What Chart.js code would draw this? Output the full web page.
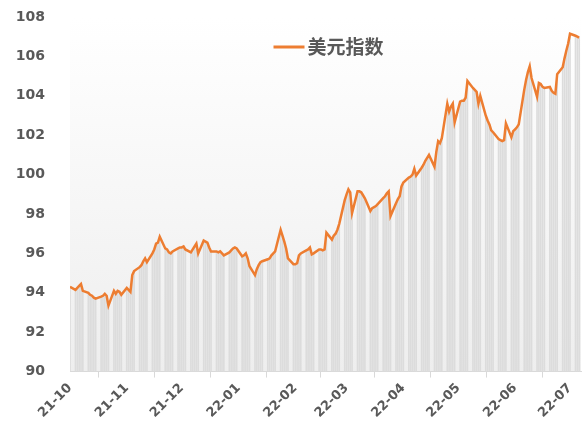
<!DOCTYPE html>
<html>
<head>
<meta charset="utf-8">
<script src="https://cdn.jsdelivr.net/npm/chart.js@4.4.0/dist/chart.umd.min.js"></script>
<style>
  html, body { margin: 0; padding: 0; background: #ffffff; }
  #wrap { width: 587px; height: 429px; }
</style>
</head>
<body>
<div id="wrap"><canvas id="dxyChart" width="587" height="429"></canvas></div>
<script>
// US dollar index, daily closes (weekdays), Oct 2021 - early Jul 2022
const seriesName = '美元指数';
const tickLabels = ['21-10', '21-11', '21-12', '22-01', '22-02', '22-03', '22-04', '22-05', '22-06', '22-07'];

const dxyOct21 = [94.3, 94.15, 94.25, 94.35, 94.45, 94.1, 94.0, 93.9, 93.85, 93.75, 93.7, 93.8, 93.85, 93.95, 93.85, 93.35, 94.1, 93.95, 94.1, 94.05, 93.9];
const dxyNov21 = [94.25, 94.15, 94.05, 94.9, 95.1, 95.3, 95.4, 95.6, 95.75, 95.55, 96.0, 96.2, 96.5, 96.55, 96.85, 96.25, 96.2, 96.05, 96.0, 96.1, 96.25, 96.3];
const dxyDec21 = [96.3, 96.35, 96.2, 96.05, 96.2, 96.35, 96.5, 96.0, 96.65, 96.6, 96.55, 96.3, 96.1, 96.1, 96.05, 96.1, 96.0, 95.9, 96.05, 96.15, 96.25, 96.3, 96.25];
const dxyJan22 = [95.85, 95.9, 96.0, 95.75, 95.35, 94.9, 95.2, 95.4, 95.55, 95.6, 95.7, 95.75, 95.9, 96.0, 96.1, 97.2, 96.9, 96.6, 96.25, 95.75, 95.45];
const dxyFeb22 = [95.45, 95.5, 95.9, 96.0, 96.15, 96.2, 96.3, 95.95, 96.0, 96.2, 96.2, 96.15, 96.2, 97.05, 96.7, 96.9, 97.0, 97.2, 97.5, 98.7];
const dxyMar22 = [99.0, 99.25, 99.1, 98.05, 99.15, 99.15, 99.1, 98.95, 98.8, 98.15, 98.3, 98.35, 98.4, 98.5, 98.8, 98.9, 99.05, 99.15, 97.9, 98.55, 98.75, 98.9, 99.4];
const dxyApr22 = [99.6, 99.85, 99.9, 100.0, 100.3, 99.95, 100.35, 100.5, 100.7, 100.85, 101.0, 100.4, 101.15, 101.7, 101.6, 101.85, 103.6, 103.2, 103.45, 103.6, 102.65];
const dxyMay22 = [103.7, 103.75, 103.75, 103.9, 104.75, 104.4, 104.3, 104.2, 103.6, 104.0, 103.0, 102.75, 102.55, 102.25, 102.15, 101.8, 101.75, 101.7, 101.75, 102.6, 101.9, 102.2];
const dxyJun22 = [102.3, 102.4, 102.55, 104.3, 104.8, 105.2, 105.5, 104.9, 103.95, 104.65, 104.6, 104.45, 104.4, 104.45, 104.25, 104.15, 104.1, 105.1, 105.45, 105.9, 106.3, 106.65];
const dxyJul22 = [107.15, 107.05, 107.0, 106.95];

const DAY = 86400000;
const start = Date.UTC(2021, 9, 1);

// x = days since 2021-10-01, stepping over weekends
const points = [];
let t = start;
[dxyOct21, dxyNov21, dxyDec21, dxyJan22, dxyFeb22, dxyMar22, dxyApr22, dxyMay22, dxyJun22, dxyJul22]
  .flat()
  .forEach(v => {
    while ([0, 6].includes(new Date(t).getUTCDay())) t += DAY;
    points.push({ x: (t - start) / DAY, y: v });
    t += DAY;
  });

// month starts for the axis ticks
const tickDays = tickLabels.map(l => {
  const yr = 2000 + Number(l.slice(0, 2));
  const mo = Number(l.slice(3)) - 1;
  return (Date.UTC(yr, mo, 1) - start) / DAY;
});

const textColor = '#595959';

// soft grey fade behind the plot
const plotBackground = {
  id: 'plotBackground',
  beforeDraw(chart) {
    const { ctx, chartArea: a } = chart;
    const g = ctx.createLinearGradient(0, a.top, 0, a.bottom);
    g.addColorStop(0, '#ffffff');
    g.addColorStop(1, '#eeeeee');
    ctx.save();
    ctx.fillStyle = g;
    ctx.fillRect(a.left, a.top, a.right - a.left, a.bottom - a.top);
    ctx.restore();
  }
};

// legend sits inside the plot, near the top
const innerLegend = {
  id: 'innerLegend',
  afterDraw(chart) {
    const ds = chart.data.datasets[0];
    const { ctx, chartArea: a } = chart;
    ctx.save();
    ctx.font = 'bold 19px "Noto Sans CJK SC"';
    const tw = ctx.measureText(ds.label).width;
    const lineW = 31, gap = 3;
    const x0 = (a.left + a.right) / 2 + 3 - (lineW + gap + tw) / 2;
    const y = a.top + 30;
    ctx.strokeStyle = ds.borderColor;
    ctx.lineWidth = 3;
    ctx.beginPath();
    ctx.moveTo(x0, y);
    ctx.lineTo(x0 + lineW, y);
    ctx.stroke();
    ctx.fillStyle = textColor;
    ctx.textBaseline = 'middle';
    ctx.fillText(ds.label, x0 + lineW + gap, y);
    ctx.restore();
  }
};

new Chart(document.getElementById('dxyChart'), {
  data: {
    datasets: [
      {
        type: 'line',
        label: seriesName,
        data: points,
        borderColor: '#ed7d31',
        borderWidth: 2.5,
        pointRadius: 0,
        tension: 0,
        order: 0
      },
      {
        type: 'bar',
        label: 'bars',
        data: points,
        backgroundColor: '#dcdcdc',
        barThickness: 1,
        order: 1
      }
    ]
  },
  options: {
    responsive: false,
    animation: false,
    layout: { padding: { left: 16, right: 6, top: 17, bottom: 5 } },
    plugins: {
      tooltip: { enabled: false },
      legend: { display: false }
    },
    scales: {
      x: {
        type: 'linear',
        min: 0,
        max: 279,
        offset: false,
        afterBuildTicks(scale) {
          scale.ticks = tickDays.map(v => ({ value: v }));
        },
        ticks: {
          autoSkip: false,
          minRotation: 45,
          maxRotation: 45,
          color: textColor,
          font: { family: 'DejaVu Sans', size: 13, weight: 'bold' },
          callback(v) {
            const i = tickDays.indexOf(v);
            return i >= 0 ? tickLabels[i] : '';
          }
        },
        grid: { display: true, drawOnChartArea: false, tickLength: 6, color: '#d9d9d9' },
        border: { display: true, color: '#d9d9d9' }
      },
      y: {
        min: 90,
        max: 108,
        afterFit(scale) {
          // keep the wide label gap from also pushing the plot down
          scale.width = 54;
          scale.paddingTop = 7;
          scale.paddingBottom = 7;
        },
        ticks: {
          stepSize: 2,
          padding: 25,
          color: textColor,
          font: { family: 'DejaVu Sans', size: 14, weight: 'bold' }
        },
        grid: { display: false, drawTicks: false },
        border: { display: false }
      }
    }
  },
  plugins: [plotBackground, innerLegend]
});
</script>
</body>
</html>
